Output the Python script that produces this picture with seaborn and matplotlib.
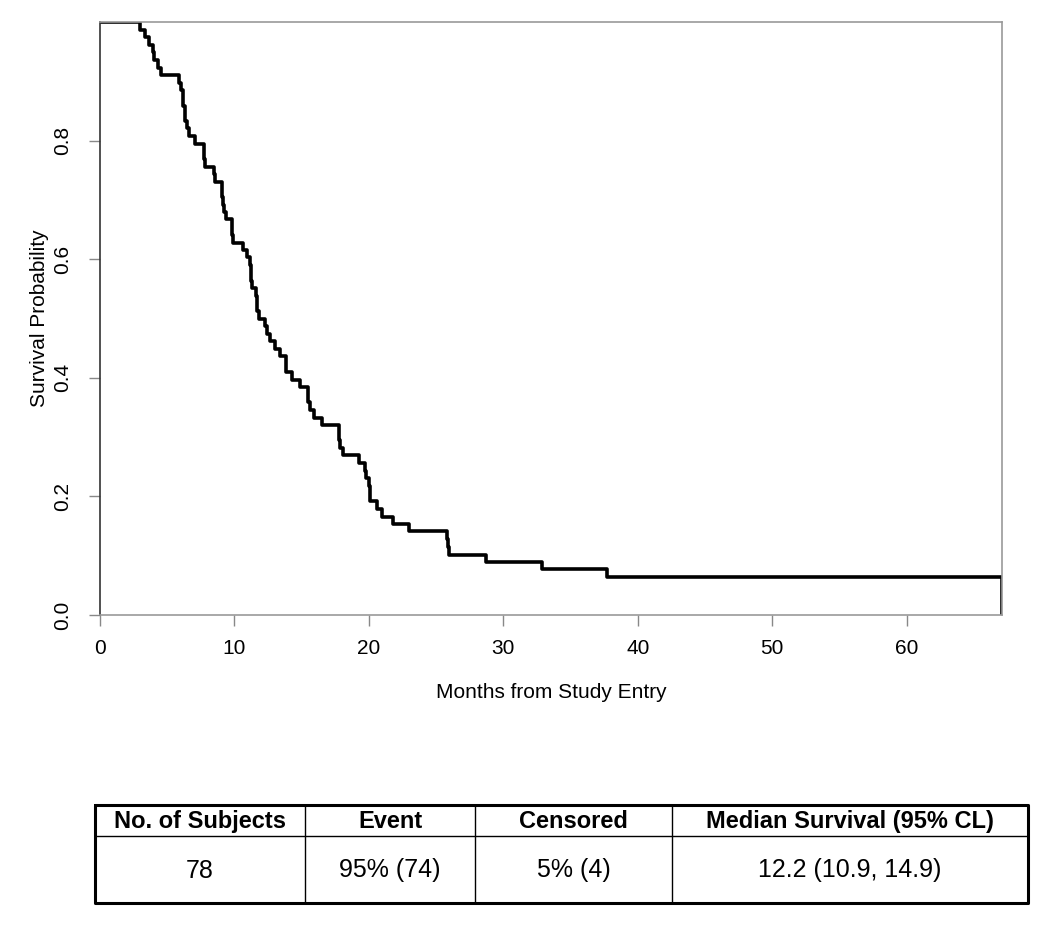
import matplotlib
matplotlib.use("Agg")
import matplotlib.pyplot as plt
import seaborn as sns
import pandas as pd

# Kaplan-Meier Kurve
months = [0, 3.0, 3.35, 3.65, 3.95, 4.05, 4.3, 4.55, 5.85, 6.05, 6.15, 6.2, 6.3,
          6.35, 6.5, 6.65, 7.05, 7.7, 7.75, 7.8, 8.5, 8.55, 9.05, 9.1, 9.15, 9.2,
          9.35, 9.8, 9.85, 9.9, 10.65, 10.95, 11.15, 11.2, 11.25, 11.3, 11.6, 11.65,
          11.7, 11.85, 12.25, 12.4, 12.65, 13.0, 13.4, 13.8, 13.85, 14.25, 14.9,
          15.45, 15.5, 15.6, 15.9, 16.5, 17.75, 17.8, 17.85, 18.1, 19.3, 19.75, 19.8,
          20.0, 20.05, 20.1, 20.6, 20.95, 21.8, 22.95, 25.8, 25.9, 25.95, 28.7, 32.9,
          37.7, 67.1, 67.1]
survival = [1.0, 0.987, 0.974, 0.962, 0.949, 0.936, 0.923, 0.910, 0.897, 0.885,
            0.872, 0.859, 0.846, 0.833, 0.821, 0.808, 0.795, 0.782, 0.769, 0.756,
            0.744, 0.731, 0.718, 0.705, 0.692, 0.679, 0.667, 0.654, 0.641, 0.628,
            0.615, 0.603, 0.590, 0.577, 0.564, 0.551, 0.538, 0.526, 0.513, 0.500,
            0.487, 0.474, 0.462, 0.449, 0.436, 0.423, 0.410, 0.397, 0.385, 0.372,
            0.359, 0.346, 0.333, 0.320, 0.307, 0.295, 0.282, 0.269, 0.256, 0.243,
            0.231, 0.218, 0.205, 0.192, 0.179, 0.166, 0.154, 0.141, 0.128, 0.115,
            0.102, 0.090, 0.077, 0.064, 0.064, 0.0]

x_ticks = [0, 10, 20, 30, 40, 50, 60]
y_ticks = [0.0, 0.2, 0.4, 0.6, 0.8]

table_header = ["No. of Subjects", "Event", "Censored", "Median Survival (95% CL)"]
table_values = ["78", "95% (74)", "5% (4)", "12.2 (10.9, 14.9)"]

sns.set_style("ticks")
plt.rcParams["font.family"] = ["Liberation Sans", "DejaVu Sans"]
plt.rcParams["text.color"] = "black"
plt.rcParams["axes.labelcolor"] = "black"
plt.rcParams["xtick.labelcolor"] = "black"
plt.rcParams["ytick.labelcolor"] = "black"

df = pd.DataFrame({"months": months, "survival": survival})

W, H = 1050, 927
fig = plt.figure(figsize=(W / 100, H / 100), dpi=100)

# ---------------------------------------------------
# Kurve
# ---------------------------------------------------
ax = fig.add_axes([100 / W, 1 - 615 / H, (1002 - 100) / W, (615 - 22) / H])
sns.lineplot(data=df, x="months", y="survival", ax=ax, estimator=None,
             sort=False, drawstyle="steps-post", color="black", linewidth=2.6)
ax.set_xlim(0, 67.1)
ax.set_ylim(0, 1.0)
ax.set_xticks(x_ticks)
ax.set_xticklabels([str(t) for t in x_ticks], fontsize=15)
ax.set_yticks(y_ticks)
ax.set_yticklabels([f"{t:.1f}" for t in y_ticks], fontsize=15, rotation=90,
                   va="center")
ax.tick_params(axis="both", length=8, width=1, color="#888888")
ax.tick_params(axis="x", pad=9)
ax.tick_params(axis="y", pad=12)
ax.set_xlabel("Months from Study Entry", fontsize=15, labelpad=18)
ax.set_ylabel("Survival Probability", fontsize=15, labelpad=3)
for side in ["top", "right", "bottom"]:
    ax.spines[side].set_visible(True)
    ax.spines[side].set_color("#999999")
    ax.spines[side].set_linewidth(1.2)
ax.spines["left"].set_color("#333333")
ax.spines["left"].set_linewidth(1.2)

# ---------------------------------------------------
# Tabelle
# ---------------------------------------------------
tx0, tx1 = 95, 1028
ty0, ty1 = 805, 903
tab = fig.add_axes([tx0 / W, 1 - ty1 / H, (tx1 - tx0) / W, (ty1 - ty0) / H])
tab.set_xlim(tx0, tx1)
tab.set_ylim(ty1, ty0)
tab.axis("off")
col_edges = [tx0, 305, 475, 672, tx1]
row_mid = 836
tab.plot([tx0, tx1, tx1, tx0, tx0], [ty0, ty0, ty1, ty1, ty0], color="black",
         linewidth=2.2, clip_on=False)
tab.plot([tx0, tx1], [row_mid, row_mid], color="black", linewidth=1)
for xe in col_edges[1:-1]:
    tab.plot([xe, xe], [ty0, ty1], color="black", linewidth=1)
for i in range(4):
    cx = (col_edges[i] + col_edges[i + 1]) / 2
    tab.text(cx, (ty0 + row_mid) / 2 + 1, table_header[i], ha="center", va="center",
             fontsize=17, fontweight="bold")
    tab.text(cx, (row_mid + ty1) / 2 + 1, table_values[i], ha="center", va="center",
             fontsize=18)

fig.savefig("out.png", dpi=100)
